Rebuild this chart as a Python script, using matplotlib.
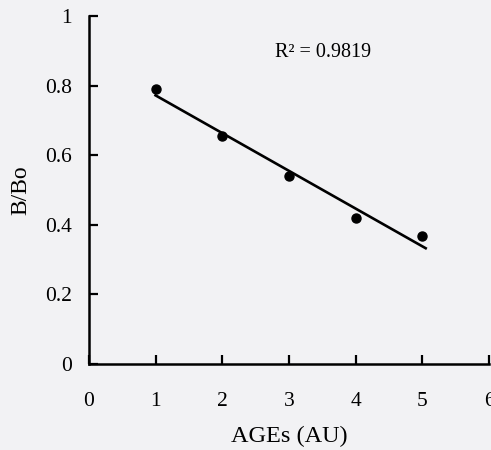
import numpy as np
import matplotlib
matplotlib.use("Agg")
import matplotlib.pyplot as plt

# Values
ages = [1, 2, 3, 4, 5]
b_bo = [0.792, 0.656, 0.541, 0.421, 0.367]
x_ticks = [0, 1, 2, 3, 4, 5, 6]
y_ticks = [0, 0.2, 0.4, 0.6, 0.8, 1]
y_tick_labels = ["0", "0.2", "0.4", "0.6", "0.8", "1"]
r2_label = "R² = 0.9819"

plt.rcParams["font.family"] = ["Liberation Serif", "DejaVu Serif"]
bg = "#f2f2f4"

fig = plt.figure(figsize=(4.91, 4.5), dpi=100, facecolor=bg)
ax = fig.add_axes([0.181, 0.191, 0.815, 0.773], facecolor=bg)

# linear fit drawn from x=1 to just past 5
slope, icpt = np.polyfit(ages, b_bo, 1)
fit_x = np.array([1.0, 5.05])
ax.plot(fit_x, slope * fit_x + icpt, color="black", lw=1.9)
ax.plot(ages, b_bo, "o", color="black", ms=6.5, clip_on=False)

ax.set_xlim(0, 6)
ax.set_ylim(0, 1)
ax.set_xticks(x_ticks)
ax.set_yticks(y_ticks)
ax.set_yticklabels(y_tick_labels)

for s in ["top", "right"]:
    ax.spines[s].set_visible(False)
for s in ["left", "bottom"]:
    ax.spines[s].set_linewidth(1.8)

ax.tick_params(axis="both", direction="in", length=6.5, width=1.6, labelsize=15.5)
ax.tick_params(axis="x", pad=20)
ax.tick_params(axis="y", pad=12)

ax.text(2.79, 0.895, r2_label, fontsize=14.5, va="center", ha="left")

ax.set_ylabel("B/Bo", fontsize=17, labelpad=10)
ax.set_xlabel("AGEs (AU)", fontsize=17.5, labelpad=11)

fig.savefig("out.png", dpi=100, facecolor=bg)
